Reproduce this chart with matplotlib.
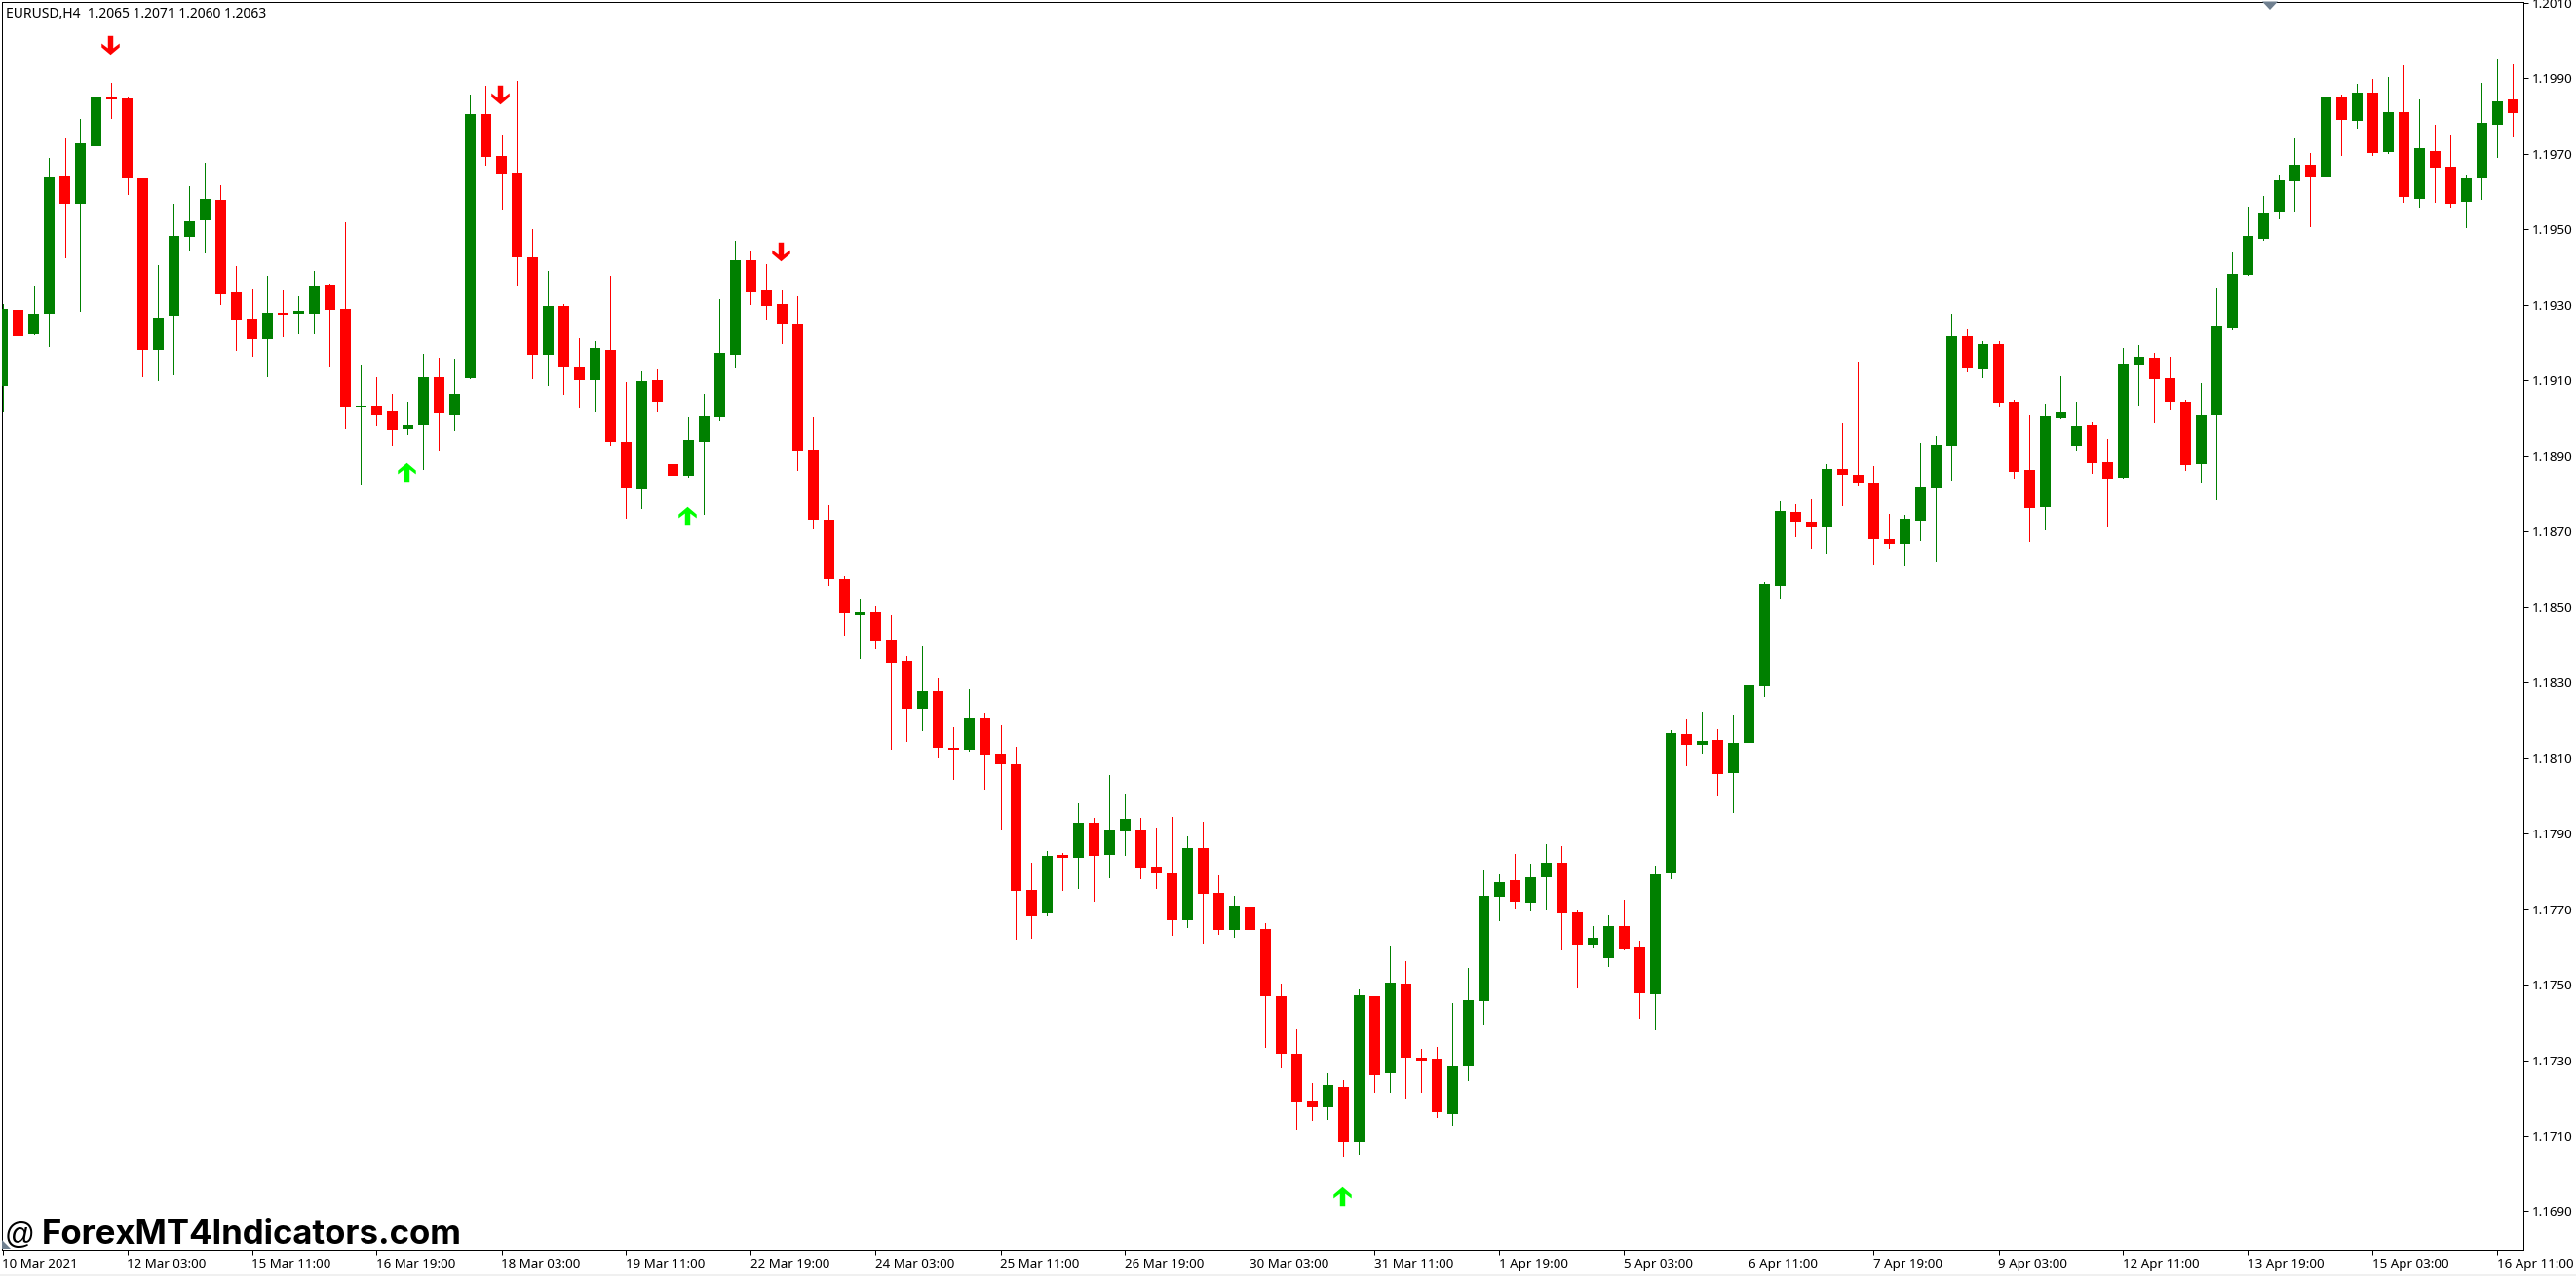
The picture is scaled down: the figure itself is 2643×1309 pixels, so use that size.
import matplotlib
matplotlib.use("Agg")
import matplotlib.pyplot as plt
import numpy as np
from matplotlib.path import Path
from matplotlib.patches import Polygon, Rectangle

# prices in points (1e-5)
opens = [119084,119286,119221,119275,119641,119569,119721,119853,119847,119636,
119180,119270,119479,119525,119579,119332,119263,119208,119280,119277,
119277,119353,119288,119029,119030,119019,118971,118981,119108,119009,
119105,119806,119695,119651,119427,119167,119298,119138,119102,119182,
118937,118811,119100,118878,118847,118937,119002,119169,119417,119337,
119301,119251,118916,118731,118574,118478,118486,118412,118357,118231,
118277,118128,118122,118205,118109,118084,117751,117689,117844,117836,
117929,117844,117906,117911,117813,117794,117671,117862,117743,117645,
117707,117648,117470,117317,117194,117174,117230,117083,117470,117264,
117503,117307,117303,117158,117284,117455,117733,117777,117717,117784,
117823,117691,117607,117571,117655,117599,117475,117795,118164,118136,
118147,118061,118141,118290,118555,118751,118727,118711,118865,118850,
118827,118680,118666,118730,118813,118926,119216,119128,119197,119043,
118862,118764,118999,118924,118981,118883,118843,119141,119159,119105,
119043,118878,119009,119241,119380,119476,119548,119628,119670,119638,
119853,119788,119863,119706,119811,119582,119708,119667,119572,119634,
119778,119843]
highs = [119301,119293,119350,119690,119740,119793,119902,119889,119850,119636,
119406,119569,119615,119677,119618,119404,119344,119376,119337,119324,
119391,119357,119520,119141,119108,119064,119045,119170,119159,119157,
119856,119881,119752,119894,119502,119391,119303,119211,119203,119376,
119095,119123,119128,118927,119002,119064,119316,119471,119445,119409,
119337,119324,119002,118770,118581,118522,118502,118478,118370,118396,
118310,118181,118283,118220,118187,118130,117823,117854,117849,117980,
117942,118055,118004,117942,117916,117945,117893,117932,117790,117736,
117743,117664,117503,117382,117240,117266,117246,117488,117470,117604,
117561,117330,117336,117452,117545,117805,117793,117846,117820,117872,
117867,117697,117655,117684,117725,117615,117816,118174,118202,118223,
118177,118214,118339,118566,118781,118773,118785,118878,118988,119151,
118873,118746,118744,118935,118953,119275,119234,119205,119205,119048,
119009,119039,119110,119043,118991,118945,119187,119193,119174,119162,
119050,119092,119347,119440,119561,119589,119644,119741,119701,119876,
119857,119886,119899,119904,119935,119843,119776,119752,119644,119889,
119951,119938]
lows = [119017,119159,119221,119190,119427,119283,119714,119796,119595,119112,
119100,119115,119445,119438,119301,119180,119164,119112,119216,119224,
119224,119138,118973,118824,118983,118929,118960,118865,118914,118968,
119105,119670,119554,119353,119105,119087,119064,119028,119019,118927,
118738,118762,119019,118751,118844,118747,118996,119134,119303,119264,
119198,118863,118708,118558,118426,118365,118390,118125,118145,118174,
118102,118045,118120,118019,117913,117622,117625,117684,117751,117756,
117723,117784,117844,117782,117756,117632,117653,117612,117635,117627,
117607,117336,117281,117119,117142,117145,117047,117052,117217,117217,
117201,117217,117150,117129,117248,117393,117671,117704,117697,117700,
117594,117493,117599,117549,117594,117413,117382,117782,118081,118112,
118002,117957,118027,118265,118523,118687,118657,118644,118770,118821,
118612,118657,118610,118677,118620,118837,119123,119108,119030,118843,
118674,118705,118999,118916,118856,118714,118843,119036,118991,119022,
118862,118832,118785,119235,119379,119472,119528,119551,119509,119531,
119698,119770,119698,119703,119574,119561,119572,119561,119505,119582,
119693,119747]
closes = [119288,119218,119275,119638,119569,119727,119853,119843,119636,119180,
119267,119482,119522,119582,119329,119260,119208,119280,119273,119283,
119350,119286,119028,119032,119009,118968,118983,119108,119012,119064,
119806,119693,119649,119425,119167,119296,119135,119100,119185,118937,
118813,119097,119045,118847,118942,119005,119172,119417,119332,119296,
119250,118912,118731,118574,118483,118486,118409,118352,118231,118277,
118128,118122,118205,118107,118084,117748,117681,117841,117836,117929,
117841,117911,117939,117810,117794,117671,117862,117741,117645,117710,
117645,117468,117317,117188,117174,117233,117083,117472,117261,117506,
117307,117300,117161,117284,117459,117736,117771,117720,117784,117823,
117689,117607,117625,117655,117594,117478,117793,118166,118136,118145,
118058,118141,118293,118561,118754,118723,118711,118865,118850,118827,
118681,118666,118733,118816,118929,119218,119131,119197,119041,118859,
118762,119004,119015,118979,118880,118840,119144,119162,119103,119043,
118875,119009,119246,119383,119482,119546,119631,119670,119638,119853,
119791,119863,119703,119811,119585,119714,119664,119569,119636,119783,
119840,119809]

sell_bars = [7, 32, 50]
sell_prices = [1.19990, 1.19856, 1.19441]
buy_bars = [26, 44, 86]
buy_prices = [1.18858, 1.18742, 1.16941]

price_ticks = [1.2010,1.1990,1.1970,1.1950,1.1930,1.1910,1.1890,1.1870,1.1850,1.1830,
               1.1810,1.1790,1.1770,1.1750,1.1730,1.1710,1.1690]
time_labels = ["10 Mar 2021","12 Mar 03:00","15 Mar 11:00","16 Mar 19:00","18 Mar 03:00",
               "19 Mar 11:00","22 Mar 19:00","24 Mar 03:00","25 Mar 11:00","26 Mar 19:00",
               "30 Mar 03:00","31 Mar 11:00","1 Apr 19:00","5 Apr 03:00","6 Apr 11:00",
               "7 Apr 19:00","9 Apr 03:00","12 Apr 11:00","13 Apr 19:00","15 Apr 03:00",
               "16 Apr 11:00"]
title_text = "EURUSD,H4  1.2065 1.2071 1.2060 1.2063"
GREEN, RED, LIME = "#008000", "#FF0000", "#00FF00"
UI_FONT = "Noto Sans"

W, H = 2643, 1309
fig = plt.figure(figsize=(W/100, H/100), dpi=100, facecolor="white")
L, R, T, B = 1.5, 2588.5, 1.5, 1281.5
ax = fig.add_axes([L/W, 1-B/H, (R-L)/W, (B-T)/H])
px_per_price = 77.47/0.0020
ref_y, ref_p = 80.4, 1.1990
ax.set_ylim(ref_p-(B-ref_y)/px_per_price, ref_p+(ref_y-T)/px_per_price)
ax.set_xlim((L-2.5)/16, (R-2.5)/16)

o, h, l, c = [np.array(v)/1e5 for v in (opens, highs, lows, closes)]
x = np.arange(len(o))
cols = [GREEN if ci >= oi else RED for oi, ci in zip(o, c)]
ax.vlines(x, l, h, colors=cols, linewidth=0.72, antialiased=False, zorder=2)
ax.bar(x, np.abs(c-o), bottom=np.minimum(o, c), width=11/16, color=cols, linewidth=0, zorder=3)

# arrow glyphs
up = Path([(-.28,-1),(.28,-1),(.28,.3),(.95,-.2),(.95,.2),(0,1),(-.95,.2),(-.95,-.2),(-.28,.3),(-.28,-1)], closed=True)
down = Path([(-.28,1),(.28,1),(.28,-.3),(.95,.2),(.95,-.2),(0,-1),(-.95,-.2),(-.95,.2),(-.28,-.3),(-.28,1)], closed=True)
ax.plot(np.array(sell_bars)-0.1, sell_prices, ls="", marker=down, ms=14, mfc=RED, mec="none", zorder=4)
ax.plot(np.array(buy_bars)-0.1, buy_prices, ls="", marker=up, ms=14, mfc=LIME, mec="none", zorder=4)

for s in ax.spines.values():
    s.set_linewidth(0.72); s.set_color("black")
ax.yaxis.tick_right()
ax.set_yticks(price_ticks, [f"{p:.4f}" for p in price_ticks], family=UI_FONT, fontsize=9.6, color="black")
ax.set_xticks(x[::8], time_labels, family=UI_FONT, fontsize=9.6, color="black", ha="left")
ax.tick_params(axis="both", length=3.5, width=0.72, color="black", pad=3)
ax.tick_params(axis="x", pad=3.5)

def fx(px): return px/W
def fy(py): return 1-py/H

fig.text(fx(6), fy(14), title_text, family=UI_FONT, fontsize=10, va="center", ha="left", color="black")
fig.text(fx(5), fy(1275.5), "@", family="Liberation Sans", fontsize=22, va="baseline", ha="left", color="black")
fig.text(fx(43), fy(1275.5), "ForexMT4Indicators.com", family="Inter", weight="bold", fontsize=25, va="baseline", ha="left", color="black")

# chart shift markers and window strip
for pts in ([(2321,1.5),(2337,1.5),(2329,10)], [(2,1272),(2,1281),(11,1281)]):
    fig.add_artist(Polygon([(fx(a), fy(b)) for a, b in pts], closed=True, transform=fig.transFigure,
                           fc="#708090", ec="none", zorder=5))
fig.add_artist(Rectangle((0, 0), 1, 2/H, transform=fig.transFigure, fc="#F0F0F0", ec="none"))

fig.savefig("out.png", dpi=100, facecolor="white")
